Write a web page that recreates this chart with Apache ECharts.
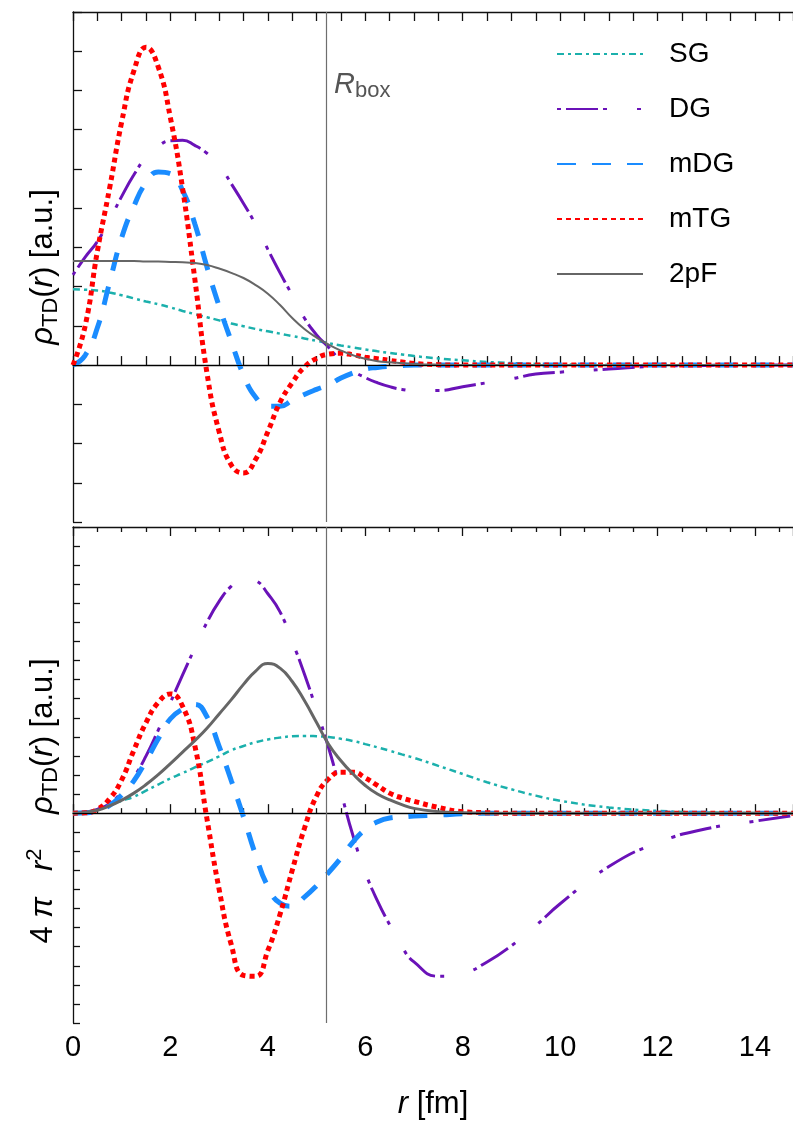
<!DOCTYPE html>
<html>
<head>
<meta charset="utf-8">
<script src="https://cdn.jsdelivr.net/npm/echarts@6/dist/echarts.min.js"></script>
<style>
  html, body { margin: 0; padding: 0; background: #fff; }
  #chart { width: 793px; height: 1124px; }
</style>
</head>
<body>
<div id="chart"></div>
<script>
// radius grid [fm], shared by both panels
const rs = [0, 0.25, 0.5, 0.75, 1, 1.25, 1.5, 1.75, 2, 2.25, 2.5, 2.75, 3, 3.25, 3.5, 3.75, 4, 4.25, 4.5, 4.75,
  5, 5.25, 5.5, 5.75, 6, 6.25, 6.5, 6.75, 7, 7.5, 8, 8.5, 9, 9.5, 10, 11, 12, 13, 14, 14.8]
const xTicks = [0, 2, 4, 6, 8, 10, 12, 14]
const rBox = 5.2

// top panel: rho_TD(r)
const sgTop = [1.93, 1.92, 1.9, 1.85, 1.78, 1.7, 1.62, 1.55, 1.47, 1.38, 1.3, 1.22, 1.14, 1.06, 0.99, 0.92, 0.86, 0.8, 0.74, 0.68,
  0.62, 0.56, 0.5, 0.45, 0.4, 0.35, 0.31, 0.27, 0.23, 0.17, 0.12, 0.08, 0.05, 0.03, 0.02, 0.01, 0, 0, 0, 0]
const dgTop = [2.3, 2.75, 3.15, 3.7, 4.3, 4.85, 5.3, 5.58, 5.72, 5.73, 5.6, 5.4, 5.1, 4.62, 4.12, 3.58, 2.95, 2.35, 1.78, 1.2,
  0.77, 0.45, 0.1, -0.15, -0.32, -0.45, -0.55, -0.62, -0.65, -0.65, -0.55, -0.45, -0.35, -0.23, -0.18, -0.1, -0.03, -0.01, 0, 0]
const mdgTop = [0, 0.25, 0.95, 2.1, 3.25, 4.05, 4.65, 4.92, 4.88, 4.45, 3.6, 2.5, 1.5, 0.6, -0.25, -0.82, -1.05, -1.05, -0.9, -0.75,
  -0.62, -0.5, -0.33, -0.2, -0.1, -0.06, -0.03, -0.01, 0, 0, 0, 0, 0, 0, 0, 0, 0, 0, 0, 0]
const mtgTop = [0, 1.0, 2.9, 4.5, 6.2, 7.5, 8.1, 7.6, 6.3, 4.5, 2.2, -0.2, -1.7, -2.55, -2.75, -2.4, -1.7, -0.95, -0.45, -0.05,
  0.17, 0.28, 0.3, 0.26, 0.2, 0.16, 0.12, 0.08, 0.04, 0.01, 0, 0, 0, 0, 0, 0, 0, 0, 0, 0]
const pfTop = [2.65, 2.65, 2.65, 2.65, 2.65, 2.65, 2.64, 2.64, 2.63, 2.62, 2.6, 2.55, 2.46, 2.35, 2.22, 2.04, 1.82, 1.53, 1.2, 0.92,
  0.7, 0.52, 0.37, 0.25, 0.16, 0.1, 0.07, 0.05, 0.03, 0.01, 0, 0, 0, 0, 0, 0, 0, 0, 0, 0]

// bottom panel: 4 pi r^2 rho_TD(r)
const sgBot = [0, 0.03, 0.2, 0.42, 0.65, 0.86, 1.18, 1.5, 1.82, 2.1, 2.4, 2.68, 2.98, 3.3, 3.52, 3.72, 3.86, 3.96, 4.03, 4.05,
  4.03, 3.99, 3.9, 3.78, 3.62, 3.45, 3.27, 3.08, 2.9, 2.48, 2.05, 1.62, 1.25, 0.92, 0.65, 0.3, 0.12, 0.04, 0.01, 0]
const dgBot = [0, 0.05, 0.2, 0.5, 1.1, 1.9, 3.0, 4.35, 5.8, 7.25, 8.65, 10.0, 11.1, 11.9, 12.35, 12.2, 11.5, 10.55, 9.0, 7.3,
  5.4, 3.4, 1.1, -1.2, -3.1, -4.6, -5.85, -7.0, -7.8, -8.55, -8.4, -7.8, -6.95, -5.9, -4.75, -2.8, -1.55, -0.82, -0.42, -0.12]
const mdgBot = [0, 0.02, 0.12, 0.4, 0.95, 1.7, 2.75, 3.9, 4.95, 5.45, 5.7, 5.05, 3.5, 1.7, -0.2, -2.2, -3.85, -4.72, -4.88, -4.4,
  -3.8, -3.1, -2.35, -1.5, -0.85, -0.45, -0.25, -0.2, -0.15, -0.1, -0.03, 0, 0, 0, 0, 0, 0, 0, 0, 0]
const mtgBot = [0, 0.02, 0.2, 0.75, 1.75, 3.3, 4.75, 5.8, 6.25, 5.6, 3.55, -0.3, -4.0, -6.9, -8.5, -8.55, -7.2, -5.3, -3.0, -0.8,
  0.9, 1.8, 2.15, 2.15, 1.85, 1.45, 1.05, 0.8, 0.62, 0.3, 0.08, 0.02, 0, 0, 0, 0, 0, 0, 0, 0]
const pfBot = [0, 0.04, 0.15, 0.38, 0.68, 1.05, 1.5, 2.02, 2.6, 3.2, 3.8, 4.45, 5.2, 5.95, 6.75, 7.45, 7.85, 7.6, 6.9, 5.9,
  4.75, 3.6, 2.75, 2.05, 1.45, 1.0, 0.7, 0.45, 0.25, 0.08, 0.02, 0, 0, 0, 0, 0, 0, 0, 0, 0]

const FONT = 'Liberation Sans'
const NB = '\u00a0'
const styles = {
  SG: { color: '#1bb0ac', width: 2.5, type: [7, 4, 3, 4] },
  DG: { color: '#6a12b8', width: 3, type: [4, 5, 32, 5, 4, 30] },
  mDG: { color: '#1a8cff', width: 5, type: [19, 16] },
  mTG: { color: '#ff0000', width: 5, type: [5, 4] },
  '2pF': { color: '#666666', width: 2, type: 'solid' }
}

function makeSeries(name, values, panel, extra) {
  const st = styles[name]
  return Object.assign({
    name: name,
    type: 'line',
    xAxisIndex: panel === 0 ? 0 : 2,
    yAxisIndex: panel,
    data: rs.map((r, i) => [r, values[i]]),
    showSymbol: false,
    symbol: 'none',
    smooth: 0.5,
    lineStyle: { color: st.color, width: st.width, type: st.type },
    itemStyle: { color: st.color },
    emphasis: { disabled: true }
  }, extra || {})
}

function refLines() {
  return {
    silent: true,
    symbol: 'none',
    animation: false,
    label: { show: false },
    data: [
      { yAxis: 0, lineStyle: { color: '#000', width: 1, type: 'solid' } },
      { xAxis: rBox, lineStyle: { color: '#6e6e6e', width: 1.2, type: 'solid' } }
    ]
  }
}

const axisLine = { show: true, lineStyle: { color: '#111', width: 1.3 } }
const nameRich = {
  n: { fontSize: 31, fontFamily: FONT, fill: '#000', lineHeight: 38 },
  i: { fontStyle: 'italic', fontSize: 31, fontFamily: FONT, fill: '#000', lineHeight: 38 },
  sub: { fontSize: 22, fontFamily: FONT, fill: '#000', lineHeight: 22, verticalAlign: 'bottom' },
  sup: { fontSize: 22, fontFamily: FONT, fill: '#000', lineHeight: 22, verticalAlign: 'top' }
}

function xAx(grid, pos, labels, longMajor) {
  const ax = {
    type: 'value', gridIndex: grid, position: pos, min: 0, max: 14.78,
    axisLine: axisLine, splitLine: { show: false },
    axisLabel: { show: false }
  }
  if (longMajor) {
    ax.interval = 2
    ax.axisTick = { inside: true, length: 9, lineStyle: { color: '#111', width: 1.3 } }
    ax.minorTick = { show: true, splitNumber: 4, length: 5, lineStyle: { color: '#111', width: 1.3 } }
  } else {
    ax.interval = 0.5
    ax.axisTick = { inside: true, length: 9, lineStyle: { color: '#111', width: 1.3 } }
  }
  if (labels) {
    ax.axisLabel = {
      show: true, fontSize: 29, fontFamily: FONT, color: '#000', margin: 10,
      showMaxLabel: false,
      formatter: v => (xTicks.indexOf(v) >= 0 ? String(v) : '')
    }
    ax.name = '{i|r}{n| [fm]}'
    ax.nameLocation = 'middle'
    ax.nameGap = 62
    ax.nameTextStyle = { fontSize: 30, fontFamily: FONT, color: '#000', lineHeight: 36, rich: nameRich }
  }
  return ax
}

// rotated y-axis titles, placed at the centre of each panel's label column
function yTitle(text, cy) {
  return {
    type: 'text', x: 43, y: cy, rotation: Math.PI / 2,
    style: { text: text, rich: nameRich, align: 'center', verticalAlign: 'middle' }
  }
}

const chart = echarts.init(document.getElementById('chart'), null, { renderer: 'canvas' })
chart.setOption({
  animation: false,
  backgroundColor: '#fff',
  grid: [
    { left: 73, top: 12, width: 720, height: 510 },
    { left: 73, top: 527, width: 720, height: 510 }
  ],
  legend: {
    data: ['SG', 'DG', 'mDG', 'mTG', '2pF'],
    orient: 'vertical',
    left: 551,
    top: 35,
    itemWidth: 86,
    itemHeight: 2,
    itemGap: 27,
    selectedMode: false,
    itemStyle: { opacity: 0 },
    textStyle: { fontSize: 28, fontFamily: FONT, color: '#000', padding: [0, 0, 0, 21] }
  },
  xAxis: [
    xAx(0, 'bottom', false, false),
    xAx(0, 'top', false, false),
    xAx(1, 'bottom', true, true),
    xAx(1, 'top', false, true)
  ],
  yAxis: [
    {
      type: 'value', gridIndex: 0, min: -4, max: 9, interval: 1,
      axisLine: axisLine, splitLine: { show: false }, axisLabel: { show: false },
      axisTick: { inside: true, length: 9, lineStyle: { color: '#111', width: 1.3 } }
    },
    {
      type: 'value', gridIndex: 1, min: -11, max: 15, interval: 1,
      axisLine: axisLine, splitLine: { show: false }, axisLabel: { show: false },
      axisTick: { inside: true, length: 7, lineStyle: { color: '#111', width: 1.3 } }
    }
  ],
  graphic: [
    {
      type: 'text', left: 334, top: 70,
      style: {
        text: '{R|R}{b|box}',
        rich: {
          R: { fontSize: 29, fontStyle: 'italic', fontFamily: FONT, fill: '#555', lineHeight: 34 },
          b: { fontSize: 22, fontFamily: FONT, fill: '#555', lineHeight: 22, verticalAlign: 'bottom' }
        }
      }
    },
    yTitle('{i|ρ}{sub|TD}{n|(}{i|r}{n|) [a.u.]}', 267),
    yTitle('{n|4}{i|' + NB + 'π' + NB + NB + NB + 'r}{sup|2}{n|' + NB.repeat(4) + '}{i|ρ}{sub|TD}{n|(}{i|r}{n|) [a.u.]}', 801)
  ],
  series: [
    makeSeries('SG', sgTop, 0),
    makeSeries('DG', dgTop, 0),
    makeSeries('mDG', mdgTop, 0),
    makeSeries('mTG', mtgTop, 0),
    makeSeries('2pF', pfTop, 0, { markLine: refLines() }),
    makeSeries('SG', sgBot, 1),
    makeSeries('DG', dgBot, 1),
    makeSeries('mDG', mdgBot, 1),
    makeSeries('mTG', mtgBot, 1),
    makeSeries('2pF', pfBot, 1, { markLine: refLines(), lineStyle: { color: '#666666', width: 3, type: 'solid' } })
  ]
})
</script>
</body>
</html>
